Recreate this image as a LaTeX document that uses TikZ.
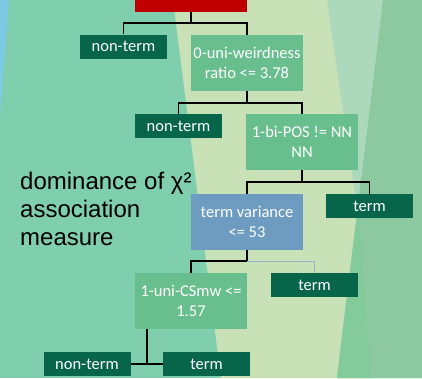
\documentclass[tikz,border=0pt]{standalone}
\usepackage{fontspec}
\setmainfont{Liberation Sans}
\newfontfamily\boxfont{Carlito}
\definecolor{bgteal}{HTML}{7FCFAF}
\definecolor{bgblue}{HTML}{7CC9E3}
\definecolor{bgpale}{HTML}{C8E1B7}
\definecolor{bgmint}{HTML}{ACD9BC}
\definecolor{bggreen}{HTML}{8CC8A0}
\definecolor{bgstripe}{HTML}{84CB9C}
\definecolor{rootred}{HTML}{C00000}
\definecolor{leafgreen}{HTML}{07654A}
\definecolor{splitgreen}{HTML}{68BF8D}
\definecolor{splitblue}{HTML}{6E9BC0}
\definecolor{thinline}{HTML}{93B3CB}
\begin{document}
\begin{tikzpicture}[x=1pt,y=-1pt,
  leaf/.style={fill=leafgreen,text=white,inner sep=0pt,
    minimum width=87pt,minimum height=24pt,
    font=\boxfont\fontsize{16.5}{19.5}\selectfont},
  split/.style={fill=splitgreen,text=white,inner sep=0pt,align=center,
    minimum width=112pt,minimum height=56pt,
    font=\boxfont\fontsize{16.5}{19.5}\selectfont},
  conn/.style={draw=black,line width=1.5pt},
  softconn/.style={draw=thinline,line width=1pt},
  caption/.style={anchor=base west,inner sep=0pt,text=black,
    font=\fontsize{24}{28}\selectfont}]
\useasboundingbox (0,0) rectangle (422,378);
\clip (0,0) rectangle (422,378);

% background bands
\fill[bgteal] (0,0) rectangle (422,378);
\fill[bgblue] (0,0) -- (9,0) -- (0,118) -- cycle;
\fill[bgpale] (173,0) -- (422,0) -- (422,378) -- (221,378) -- cycle;
\fill[bgmint] (327,0) -- (383,0) -- (358,215) -- cycle;
\fill[bggreen] (383,0) -- (422,0) -- (422,378) -- (337,378) -- cycle;
\fill[bgstripe] (358,205) -- (371,378) -- (337,378) -- cycle;

% caption
\node[caption] (cap1) at (20,189) {dominance of χ²};
\node[caption] (cap2) at (20,217) {association};
\node[caption] (cap3) at (20,245) {measure};

% tree nodes
\node[fill=rootred,inner sep=0pt,minimum width=112pt,minimum height=23pt] (root) at (191,0) {};
\node[leaf] (nt1) at (123.5,46.5) {non-term};
\node[split] (uni) at (247,63) {0-uni-weirdness\\ratio <= 3.78};
\node[leaf] (nt2) at (178.5,126) {non-term};
\node[split] (pos) at (302,142) {1-bi-POS != NN\\NN};
\node[split,fill=splitblue] (var) at (247,222) {term variance\\<= 53};
\node[leaf] (t1) at (369.5,206) {term};
\node[split] (csmw) at (191,301) {1-uni-CSmw <=\\1.57};
\node[leaf] (t2) at (314.5,285) {term};
\node[leaf] (nt3) at (87,364) {non-term};
\node[leaf] (t3) at (206.5,364) {term};

% connector levels
\coordinate (b1) at (0,23);
\coordinate (b2) at (0,103);
\coordinate (b3) at (0,182);
\coordinate (b4) at (0,261);
\coordinate (b5) at (147,0);

\draw[conn] (root.south) -- (root.south |- b1);
\draw[conn] (nt1.north) |- (uni.north |- b1) -- (uni.north);

\draw[conn] (uni.south) -- (uni.south |- b2);
\draw[conn] (nt2.north) |- (pos.north |- b2) -- (pos.north);

\draw[conn] (pos.south) -- (pos.south |- b3);
\draw[conn] (var.north) |- (t1.north |- b3) -- (t1.north);

\draw[softconn] (var.south |- b4) -| (t2.north);
\draw[conn] (var.south) -- (var.south |- b4);
\draw[conn] (csmw.north) |- (var.south |- b4);

\draw[conn] (csmw.south -| b5) -- (nt3.east -| b5);
\draw[conn] (nt3.east) -- (t3.west);
\end{tikzpicture}
\end{document}
